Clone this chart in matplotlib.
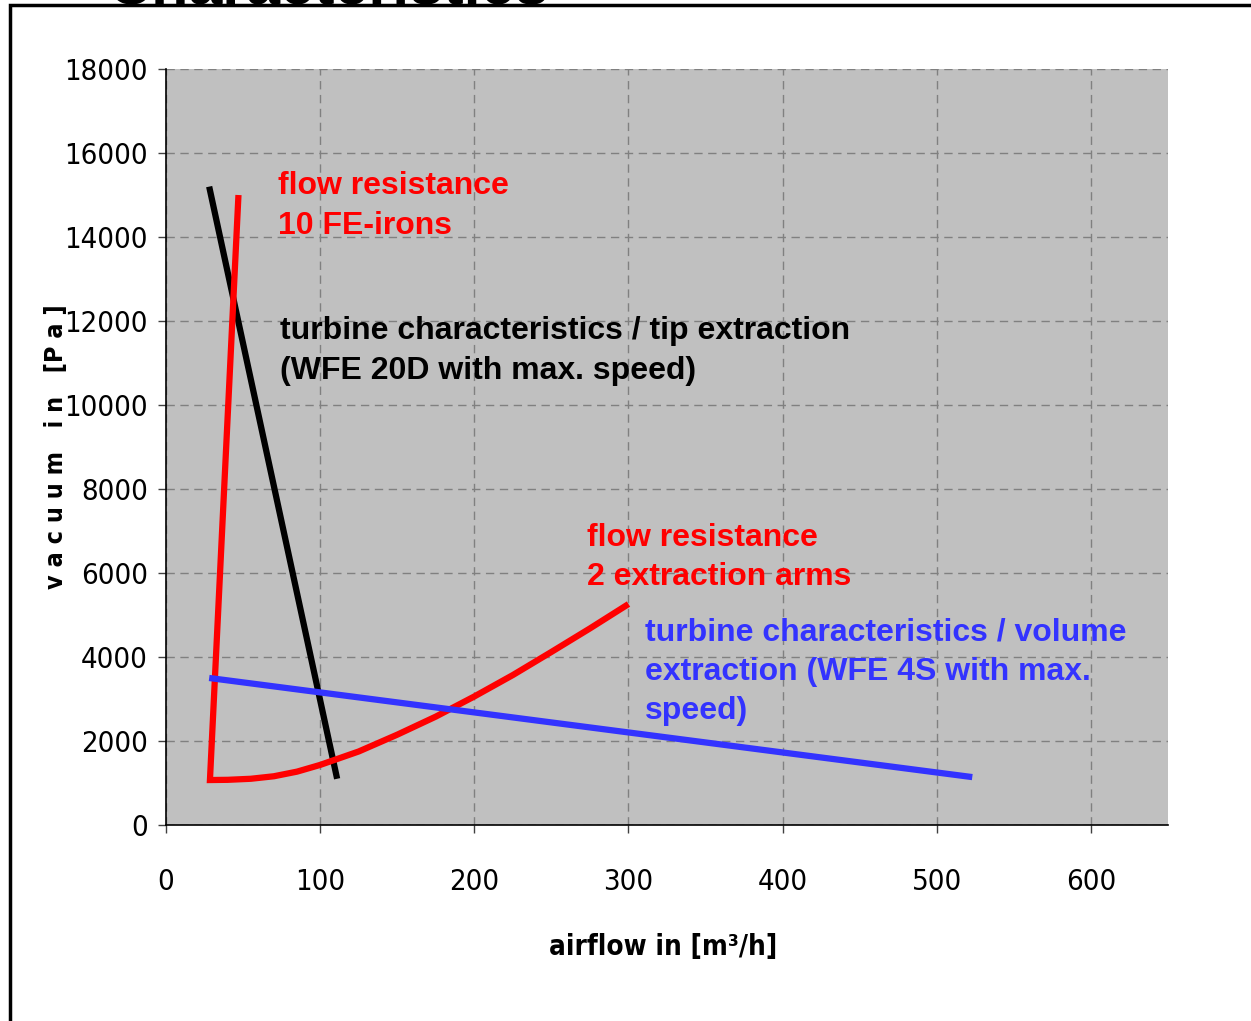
import numpy as np
import matplotlib.pyplot as plt
from matplotlib.patches import Rectangle

# --- data ---
# turbine characteristics / tip extraction (black)
tip_x = [28, 111]
tip_y = [15200, 1100]

# flow resistance 10 FE-irons (red, steep)
fe_x = [47, 28.5]
fe_y = [15000, 1070]

# flow resistance 2 extraction arms (red curve)
arms_x = [28.5, 40, 55, 70, 85, 100, 125, 150, 175, 200, 225, 250, 275, 300]
arms_y = [1070, 1075, 1100, 1160, 1270, 1430, 1750, 2150, 2580, 3060, 3570, 4120, 4680, 5260]

# turbine characteristics / volume extraction (blue)
vol_x = [28, 523]
vol_y = [3500, 1140]

x_ticks = [0, 100, 200, 300, 400, 500, 600]
y_ticks = list(range(0, 18001, 2000))

RED = '#FF0000'
BLUE = '#3333FF'
narrow = dict(family='DejaVu Sans', stretch='condensed')
bold = ['Liberation Sans', 'DejaVu Sans']

fig = plt.figure(figsize=(12.51, 10.21), dpi=100)
ax = fig.add_axes([0.1327, 0.192, 0.8010, 0.7404])
ax.set_facecolor('#C0C0C0')

ax.plot(tip_x, tip_y, color='black', lw=4.5, solid_capstyle='butt', zorder=3)
ax.plot(fe_x + arms_x, fe_y + arms_y, color=RED, lw=4.5, solid_capstyle='butt',
        solid_joinstyle='miter', zorder=3)
ax.plot(vol_x, vol_y, color=BLUE, lw=4.5, solid_capstyle='butt', zorder=3)

txt = dict(fontsize=23, fontweight='bold', family=bold, va='top', ha='left',
           linespacing=1.40, zorder=4)
ax.text(72.6, 15560, 'flow resistance\n10 FE-irons', color=RED, **txt)
ax.text(74, 12110, 'turbine characteristics / tip extraction\n(WFE 20D with max. speed)',
        color='black', **txt)
ax.text(273, 7200, 'flow resistance\n2 extraction arms', color=RED, **txt)
ax.text(310.7, 4940, 'turbine characteristics / volume\nextraction (WFE 4S with max.\nspeed)',
        color=BLUE, **txt)

ax.set_xlim(0, 650)
ax.set_ylim(0, 18000)
ax.set_xticks(x_ticks)
ax.set_yticks(y_ticks)
ax.grid(True, color='#808080', linestyle=(0, (6, 4)), linewidth=1)
ax.set_axisbelow(True)
for side in ['top', 'right']:
    ax.spines[side].set_visible(False)
for side in ['left', 'bottom']:
    ax.spines[side].set_color('black')
    ax.spines[side].set_linewidth(1.2)
ax.tick_params(axis='both', direction='out', length=6, width=1, color='#404040')
ax.tick_params(axis='y', pad=7)
ax.tick_params(axis='x', pad=25)
for lbl in ax.get_xticklabels() + ax.get_yticklabels():
    lbl.set_family(narrow['family'])
    lbl.set_stretch(narrow['stretch'])
    lbl.set_fontsize(21)

ax.set_xlabel('airflow in [m³/h]', fontsize=20, fontweight='bold', **narrow)
ax.xaxis.set_label_coords(0.496, -0.143)
ax.set_ylabel('v a c u u m   i n   [P a ]', fontsize=18, fontweight='bold', **narrow)
ax.yaxis.set_label_coords(-0.098, 0.5)

# slide frame and cut-off title
fig.patches.append(Rectangle((10 / 1251, -0.1), 1.2, 1 - 5 / 1021 + 0.1,
                             transform=fig.transFigure, fill=False,
                             edgecolor='black', linewidth=2.5))
fig.text(108 / 1251, 1 - 4 / 1021, 'Characteristics', fontsize=44,
         fontweight='bold', family=bold, va='baseline', ha='left')

plt.savefig('out.png', dpi=100)
